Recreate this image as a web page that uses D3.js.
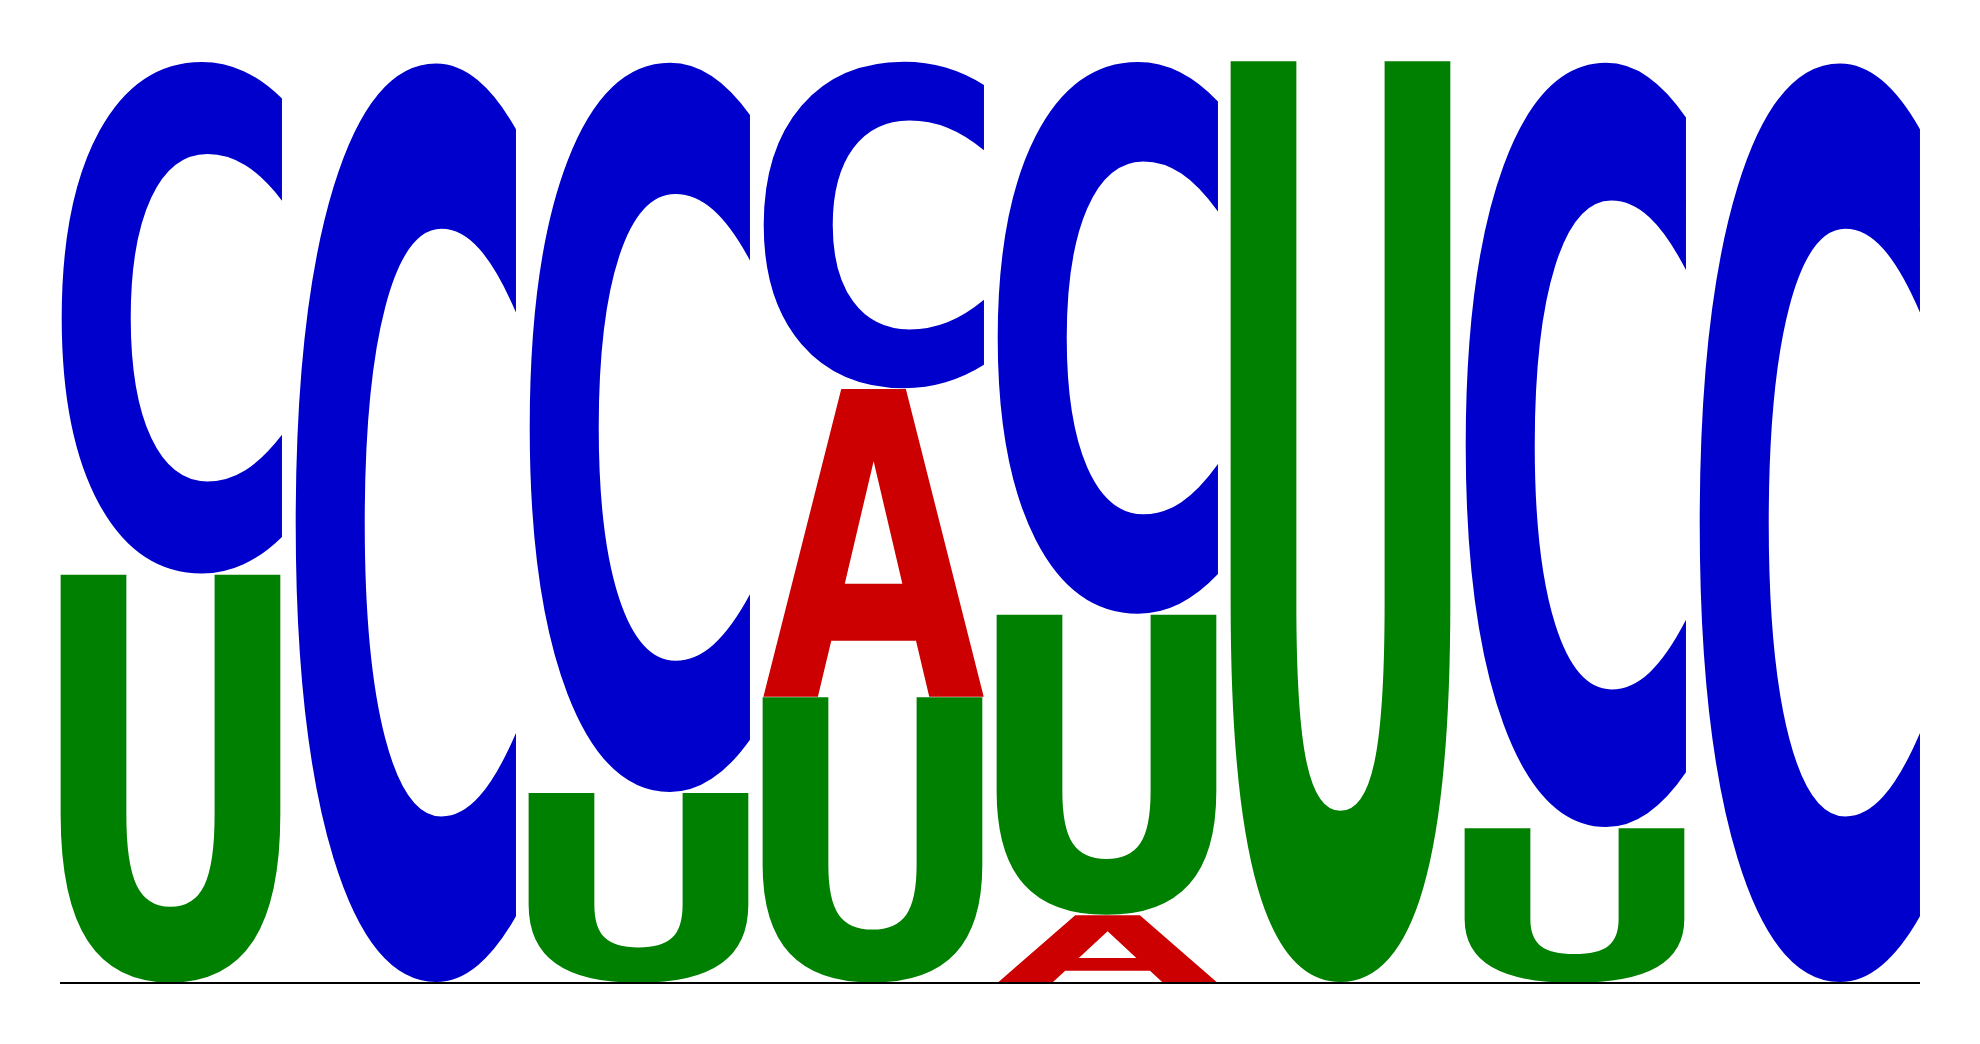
<!DOCTYPE html>
<html>
<head>
<meta charset="utf-8">
<script src="https://cdn.jsdelivr.net/npm/d3@7"></script>
<style>
  html, body { margin: 0; padding: 0; background: #fff; }
  svg { display: block; }
</style>
</head>
<body>
<svg id="logo" width="1980" height="1044"></svg>
<script>
// sequence logo, heights in bits
const positions = [1, 2, 3, 4, 5, 6, 7, 8];
const bases = ['A', 'C', 'U'];
const aBits = [0, 0, 0, 0.668, 0.147, 0, 0, 0];
const cBits = [1.114, 2, 1.588, 0.711, 1.201, 0, 1.664, 2];
const uBits = [0.886, 0, 0.412, 0.620, 0.652, 2, 0.336, 0];
const baseColors = { A: '#cc0000', C: '#0000cc', U: '#008000' };

const width = 1980, height = 1044;
const margin = { top: 60, right: 60, bottom: 61, left: 60 };

const svg = d3.select('#logo');

const x = d3.scaleBand()
  .domain(positions)
  .range([margin.left, width - margin.right])
  .paddingInner(0.0513)
  .paddingOuter(0);

const y = d3.scaleLinear()
  .domain([0, 2])
  .range([height - margin.bottom, margin.top]);

// ink bounds of each glyph, so a letter fills its box exactly
const fontSpec = 'bold 200px "DejaVu Sans"';
const ctx = document.createElement('canvas').getContext('2d');
ctx.font = fontSpec;
const ink = {};
bases.forEach(b => {
  const m = ctx.measureText(b);
  ink[b] = {
    left: m.actualBoundingBoxLeft,
    right: m.actualBoundingBoxRight,
    ascent: m.actualBoundingBoxAscent,
    descent: m.actualBoundingBoxDescent
  };
});

const bitsOf = { A: aBits, C: cBits, U: uBits };

// stack each column, smallest at the bottom
const stacks = positions.map((p, i) => {
  const col = bases
    .map(b => ({ base: b, bits: bitsOf[b][i] }))
    .filter(d => d.bits > 0)
    .sort((a, b) => a.bits - b.bits);
  let acc = 0;
  col.forEach(d => { d.y0 = acc; acc += d.bits; d.y1 = acc; d.pos = p; });
  return col;
});

const letters = svg.append('g')
  .selectAll('g.col')
  .data(stacks)
  .join('g')
  .attr('class', 'col')
  .selectAll('text')
  .data(d => d)
  .join('text')
  .text(d => d.base)
  .attr('font-family', '"DejaVu Sans"')
  .attr('font-weight', 'bold')
  .attr('font-size', 200)
  .attr('fill', d => baseColors[d.base])
  .attr('transform', d => {
    const g = ink[d.base];
    const bx = x(d.pos);
    const by = y(d.y1);
    const sx = x.bandwidth() / (g.left + g.right);
    const sy = (y(d.y0) - y(d.y1)) / (g.ascent + g.descent);
    return `translate(${bx},${by}) scale(${sx},${sy}) translate(${g.left},${g.ascent})`;
  });

svg.append('line')
  .attr('x1', margin.left)
  .attr('x2', width - margin.right)
  .attr('y1', y(0))
  .attr('y2', y(0))
  .attr('stroke', '#000')
  .attr('stroke-width', 2);
</script>
</body>
</html>
